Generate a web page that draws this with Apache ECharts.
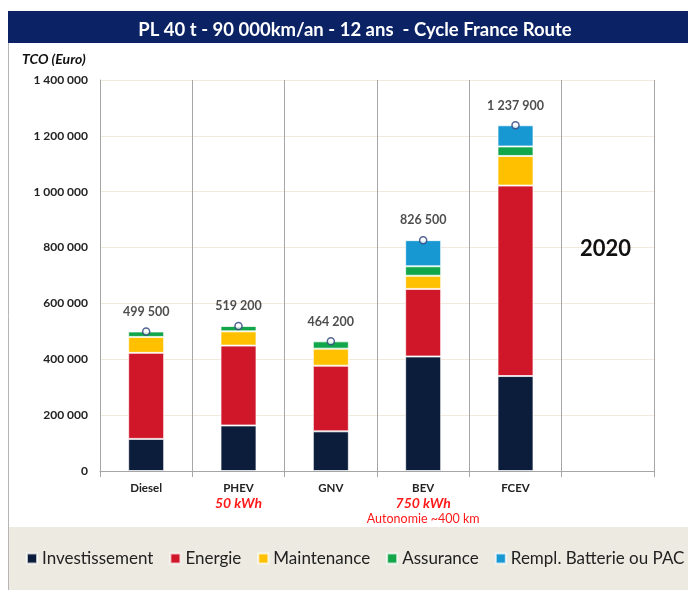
<!DOCTYPE html>
<html>
<head>
<meta charset="utf-8">
<script src="https://cdn.jsdelivr.net/npm/echarts@6/dist/echarts.min.js"></script>
<style>
html, body { margin: 0; padding: 0; background: #fff; }
#main { width: 688px; height: 590px; }
</style>
</head>
<body>
<div id="main"></div>
<script>
// données (en euros)
var categories = ['Diesel', 'PHEV', 'GNV', 'BEV', 'FCEV', ''];
var notes = ['', '50 kWh', '', '750 kWh', '', ''];
var subNotes = ['', '', '', 'Autonomie ~400 km', '', ''];

var investissement = [115000, 163000, 142000, 410000, 340000, null];
var energie = [308000, 286000, 235000, 242000, 682000, null];
var maintenance = [57000, 51000, 61000, 47000, 106000, null];
var assurance = [19500, 19200, 26200, 34000, 34000, null];
var rempl = [null, null, null, 93500, 75900, null];
var totals = [499500, 519200, 464200, 826500, 1237900, null];

var yTicks = [0, 200000, 400000, 600000, 800000, 1000000, 1200000, 1400000];

function fmt(v) {
	return String(v).replace(/\B(?=(\d{3})+(?!\d))/g, ' ');
}

window.onload = function() {

	var myChart = echarts.init(document.getElementById('main'));
	var font = 'Lato, "Open Sans", sans-serif';

	function barSerie(name, data, color) {
		return {
			name: name,
			type: 'bar',
			stack: 'tco',
			barWidth: 36,
			data: data,
			itemStyle: {
				color: color,
				borderColor: 'rgba(255,255,255,0.7)',
				borderWidth: 1
			}
		};
	}

	var option = {
		animation: false,
		textStyle: { fontFamily: font },
		title: {
			text: 'PL 40 t - 90 000km/an - 12 ans  - Cycle France Route',
			left: 350,
			textAlign: 'center',
			top: 16,
			textStyle: { color: '#fff', fontSize: 18.5, fontWeight: 'bold', fontFamily: font }
		},
		graphic: [
			{ type: 'rect', z: -10, shape: { x: 8, y: 11, width: 690, height: 32 }, style: { fill: '#0b2265' } },
			{ type: 'rect', z: -10, shape: { x: 8, y: 527, width: 690, height: 70 }, style: { fill: '#eceae1' } },
			{ type: 'line', z: -5, shape: { x1: 8.5, y1: 43, x2: 8.5, y2: 590 }, style: { stroke: '#b5b5b5', lineWidth: 1 } },
			{ type: 'text', z: 100, left: 22, top: 52, style: { text: 'TCO (Euro)', font: 'italic bold 14px ' + font, fill: '#111' } },
			{ type: 'text', z: 100, left: 580, top: 238, style: { text: '2020', font: 'bold 22px ' + font, fill: '#111' } }
		],
		legend: {
			top: 550,
			left: 26,
			width: 662,
			padding: 0,
			itemWidth: 10,
			itemHeight: 10,
			itemGap: 16,
			icon: 'rect',
			textStyle: { fontSize: 17, color: '#222', fontFamily: font },
			data: ['Investissement', 'Energie', 'Maintenance', 'Assurance', 'Rempl. Batterie ou PAC']
		},
		grid: { left: 100, right: 34, top: 80, bottom: 119, containLabel: false },
		xAxis: {
			type: 'category',
			data: categories,
			axisLine: { lineStyle: { color: '#a6a6a6' } },
			axisTick: { show: true, length: 6, lineStyle: { color: '#a6a6a6' } },
			splitLine: { show: true, lineStyle: { color: '#a6a6a6', width: 1 } },
			axisLabel: {
				margin: 10,
				interval: 0,
				formatter: function(v, i) {
					var s = '{c|' + v + '}';
					if (notes[i]) s += '\n{n|' + notes[i] + '}';
					if (subNotes[i]) s += '\n{s|' + subNotes[i] + '}';
					return s;
				},
				rich: {
					c: { fontSize: 11.5, fontWeight: 'bold', color: '#222', lineHeight: 14, fontFamily: font },
					n: { fontSize: 14, fontWeight: 'bold', fontStyle: 'italic', color: '#ff1a1a', lineHeight: 16, fontFamily: font },
					s: { fontSize: 12.5, color: '#ff1a1a', lineHeight: 16, fontFamily: font }
				}
			}
		},
		yAxis: {
			type: 'value',
			min: 0,
			max: 1400000,
			interval: 200000,
			axisLine: { show: true, lineStyle: { color: '#a6a6a6' } },
			axisTick: { show: false },
			splitLine: { lineStyle: { color: '#f1e9dc' } },
			axisLabel: {
				margin: 12,
				fontSize: 12,
				fontWeight: 'bold',
				color: '#222',
				fontFamily: font,
				formatter: function(v) { return yTicks.indexOf(v) >= 0 ? fmt(v) : ''; }
			}
		},
		series: [
			barSerie('Investissement', investissement, '#0c1d3b'),
			barSerie('Energie', energie, '#d01729'),
			barSerie('Maintenance', maintenance, '#ffc000'),
			barSerie('Assurance', assurance, '#12a64a'),
			barSerie('Rempl. Batterie ou PAC', rempl, '#1898d3'),
			{
				name: 'Total',
				type: 'scatter',
				data: totals,
				symbol: 'circle',
				symbolSize: 7,
				z: 5,
				itemStyle: { color: '#fff', borderColor: '#2a3f7a', borderWidth: 1.5 },
				label: {
					show: true,
					position: 'top',
					distance: 9,
					fontSize: 12.5,
					fontWeight: 'bold',
					color: '#222',
					fontFamily: font,
					formatter: function(p) { return fmt(p.value); }
				}
			}
		]
	};

	myChart.setOption(option);
};
</script>
</body>
</html>
